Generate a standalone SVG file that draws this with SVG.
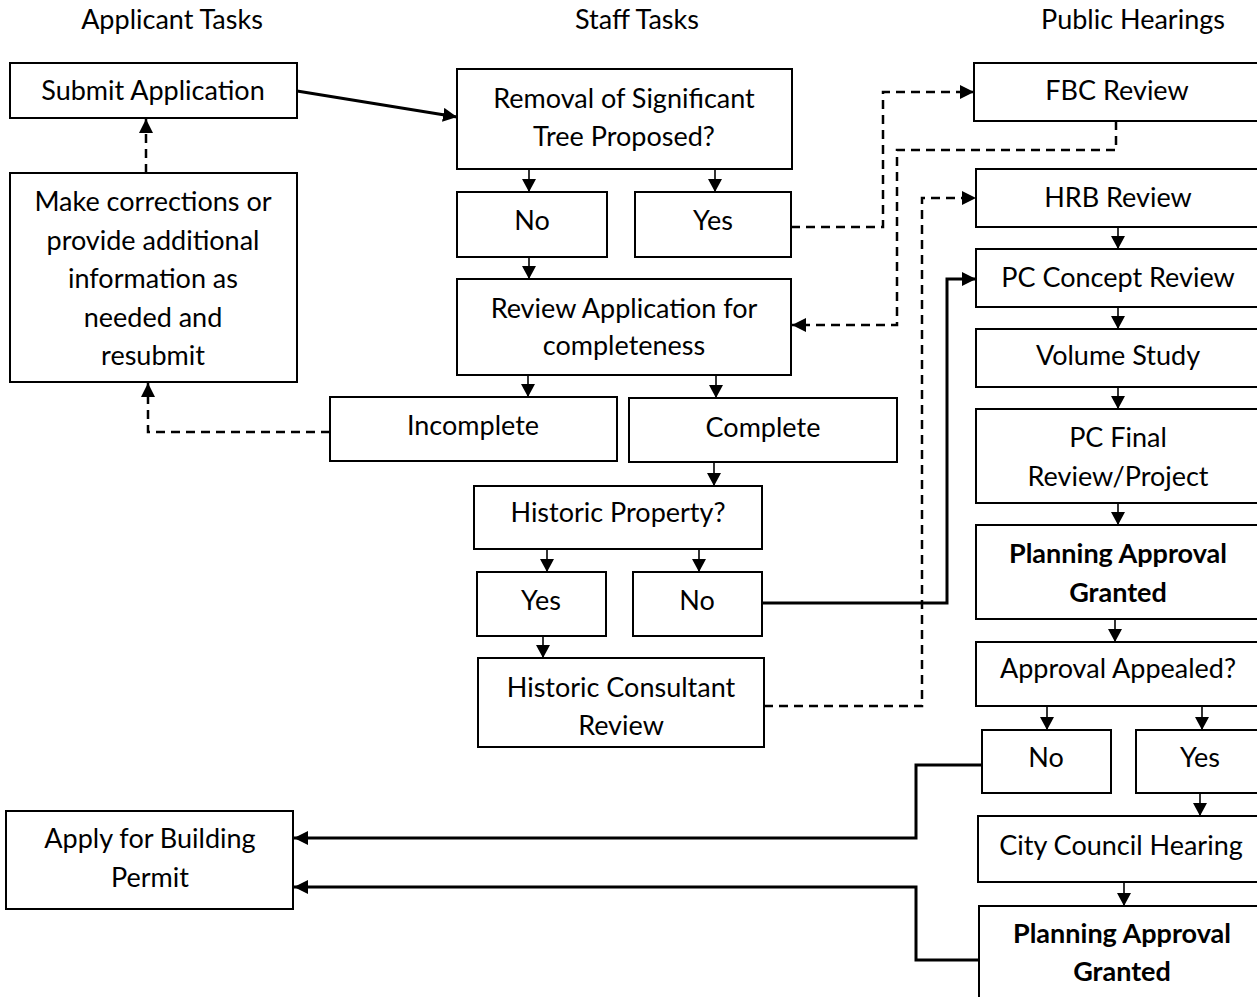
<svg xmlns="http://www.w3.org/2000/svg" width="1257" height="997" viewBox="0 0 1257 997">
<style>
.bg{fill:#fff}
rect.b{fill:#fff;stroke:#000;stroke-width:2}
text{font-family:Lato,"Liberation Sans",sans-serif;font-size:27px;fill:#000;text-anchor:middle}
text.bold{font-weight:bold}
.thin{fill:none;stroke:#000;stroke-width:1.6}
.thick{fill:none;stroke:#000;stroke-width:3}
.dash{fill:none;stroke:#000;stroke-width:2.5;stroke-dasharray:9 6}
</style>
<defs>
<marker id="ah" markerUnits="userSpaceOnUse" viewBox="0 0 14 14" markerWidth="14" markerHeight="14" refX="14" refY="7" orient="auto">
<path d="M0,0 L14,7 L0,14 z" fill="#000"/>
</marker>
<marker id="as" markerUnits="userSpaceOnUse" viewBox="0 0 13 14" markerWidth="13" markerHeight="14" refX="13" refY="7" orient="auto">
<path d="M0,0 L13,7 L0,14 z" fill="#000"/>
</marker>
</defs>
<rect class="bg" x="0" y="0" width="1257" height="997"/>

<g id="headers">
<text x="172" y="29">Applicant Tasks</text>
<text x="637" y="29">Staff Tasks</text>
<text x="1133" y="29">Public Hearings</text>
</g>

<g id="connectors">
<path class="thick" d="M297,91 L457,117" marker-end="url(#ah)"/>
<path class="dash" d="M146,173 L146,119" marker-end="url(#ah)"/>
<path class="thin" d="M529,169 L529,192" marker-end="url(#as)"/>
<path class="thin" d="M715,169 L715,192" marker-end="url(#as)"/>
<path class="thin" d="M529,257 L529,279" marker-end="url(#as)"/>
<path class="dash" d="M791,227 L883,227 L883,92 L974,92" marker-end="url(#ah)"/>
<path class="dash" d="M1116,121 L1116,150 L897,150 L897,325 L792,325" marker-end="url(#ah)"/>
<path class="thin" d="M528,375 L528,397" marker-end="url(#as)"/>
<path class="thin" d="M716,375 L716,398" marker-end="url(#as)"/>
<path class="dash" d="M330,432 L148,432 L148,383" marker-end="url(#ah)"/>
<path class="thin" d="M714,462 L714,486" marker-end="url(#as)"/>
<path class="thin" d="M547,549 L547,572" marker-end="url(#as)"/>
<path class="thin" d="M699,549 L699,572" marker-end="url(#as)"/>
<path class="thin" d="M543,636 L543,658" marker-end="url(#as)"/>
<path class="thick" d="M762,603 L947,603 L947,279 L976,279" marker-end="url(#ah)"/>
<path class="dash" d="M764,706 L922,706 L922,198 L976,198" marker-end="url(#ah)"/>
<path class="thin" d="M1118,227 L1118,249" marker-end="url(#as)"/>
<path class="thin" d="M1118,307 L1118,329" marker-end="url(#as)"/>
<path class="thin" d="M1118,387 L1118,409" marker-end="url(#as)"/>
<path class="thin" d="M1118,503 L1118,525" marker-end="url(#as)"/>
<path class="thin" d="M1115,619 L1115,642" marker-end="url(#as)"/>
<path class="thin" d="M1047,706 L1047,730" marker-end="url(#as)"/>
<path class="thin" d="M1202,706 L1202,730" marker-end="url(#as)"/>
<path class="thick" d="M982,765 L916,765 L916,838 L294,838" marker-end="url(#ah)"/>
<path class="thin" d="M1200,793 L1200,816" marker-end="url(#as)"/>
<path class="thin" d="M1124,882 L1124,906" marker-end="url(#as)"/>
<path class="thick" d="M979,960 L916,960 L916,887 L294,887" marker-end="url(#ah)"/>
</g>

<g id="submit"><rect class="b" x="10" y="63" width="287" height="55"/><text x="153" y="100">Submit Application</text></g>
<g id="corrections"><rect class="b" x="10" y="173" width="287" height="209"/>
<text x="153" y="211">Make corrections or</text>
<text x="153" y="250">provide additional</text>
<text x="153" y="288">information as</text>
<text x="153" y="327">needed and</text>
<text x="153" y="365">resubmit</text></g>
<g id="removal"><rect class="b" x="457" y="69" width="335" height="100"/>
<text x="624" y="108">Removal of Significant</text>
<text x="624" y="146">Tree Proposed?</text></g>
<g id="tree-no"><rect class="b" x="457" y="192" width="150" height="65"/><text x="532" y="230">No</text></g>
<g id="tree-yes"><rect class="b" x="635" y="192" width="156" height="65"/><text x="713" y="230">Yes</text></g>
<g id="review"><rect class="b" x="457" y="279" width="334" height="96"/>
<text x="624" y="318">Review Application for</text>
<text x="624" y="355">completeness</text></g>
<g id="incomplete"><rect class="b" x="330" y="397" width="287" height="64"/><text x="473" y="435">Incomplete</text></g>
<g id="complete"><rect class="b" x="629" y="398" width="268" height="64"/><text x="763" y="437">Complete</text></g>
<g id="historic"><rect class="b" x="474" y="486" width="288" height="63"/><text x="618" y="522">Historic Property?</text></g>
<g id="hist-yes"><rect class="b" x="477" y="572" width="129" height="64"/><text x="541" y="610">Yes</text></g>
<g id="hist-no"><rect class="b" x="633" y="572" width="129" height="64"/><text x="697" y="610">No</text></g>
<g id="consultant"><rect class="b" x="478" y="658" width="286" height="89"/>
<text x="621" y="697">Historic Consultant</text>
<text x="621" y="735">Review</text></g>

<g id="fbc"><rect class="b" x="974" y="63" width="290" height="58"/><text x="1117" y="100">FBC Review</text></g>
<g id="hrb"><rect class="b" x="976" y="169" width="288" height="58"/><text x="1118" y="207">HRB Review</text></g>
<g id="pc-concept"><rect class="b" x="976" y="249" width="288" height="58"/><text x="1118" y="287">PC Concept Review</text></g>
<g id="volume"><rect class="b" x="976" y="329" width="288" height="58"/><text x="1118" y="365">Volume Study</text></g>
<g id="pc-final"><rect class="b" x="976" y="409" width="288" height="94"/>
<text x="1118" y="447">PC Final</text>
<text x="1118" y="486">Review/Project</text></g>
<g id="approval1"><rect class="b" x="976" y="525" width="288" height="94"/>
<text class="bold" x="1118" y="563">Planning Approval</text>
<text class="bold" x="1118" y="602">Granted</text></g>
<g id="appealed"><rect class="b" x="976" y="642" width="288" height="64"/><text x="1118" y="678">Approval Appealed?</text></g>
<g id="appeal-no"><rect class="b" x="982" y="730" width="129" height="63"/><text x="1046" y="767">No</text></g>
<g id="appeal-yes"><rect class="b" x="1136" y="730" width="128" height="63"/><text x="1200" y="767">Yes</text></g>
<g id="council"><rect class="b" x="978" y="816" width="286" height="66"/><text x="1121" y="855">City Council Hearing</text></g>
<g id="approval2"><rect class="b" x="979" y="906" width="285" height="110"/>
<text class="bold" x="1122" y="943">Planning Approval</text>
<text class="bold" x="1122" y="981">Granted</text></g>
<g id="building"><rect class="b" x="6" y="811" width="287" height="98"/>
<text x="150" y="848">Apply for Building</text>
<text x="150" y="887">Permit</text></g>
</svg>
